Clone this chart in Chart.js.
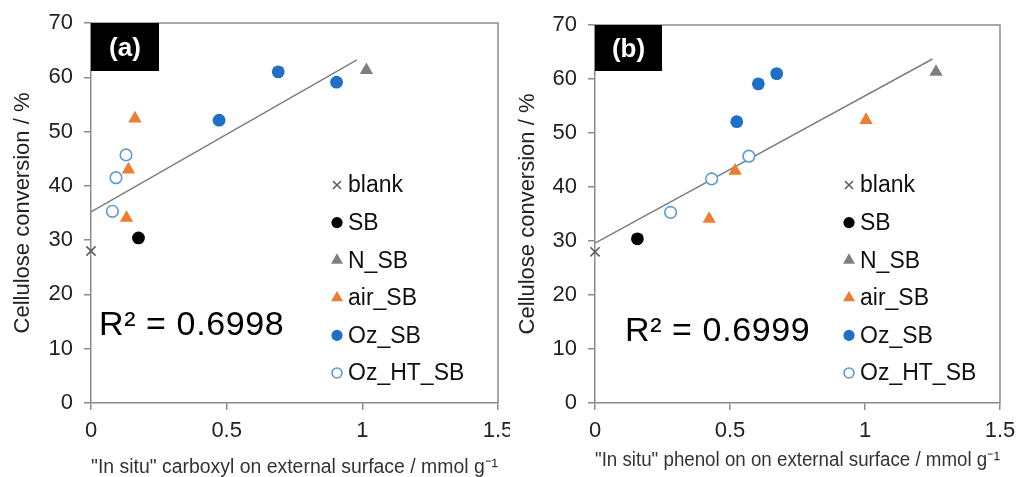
<!DOCTYPE html>
<html>
<head>
<meta charset="utf-8">
<script src="https://cdn.jsdelivr.net/npm/chart.js@4.4.1/dist/chart.umd.min.js"></script>
<style>
body { margin: 0; background: #fff; }
#wrap { position: relative; width: 1020px; height: 477px; overflow: hidden; }
.panel { position: absolute; top: 0; width: 510px; height: 477px; }
</style>
</head>
<body>
<div id="wrap">
  <div class="panel" style="left:0"><canvas id="chartA" width="510" height="477"></canvas></div>
  <div class="panel" style="left:510px"><canvas id="chartB" width="510" height="477"></canvas></div>
</div>
<script>
const seriesNames = ['blank', 'SB', 'N_SB', 'air_SB', 'Oz_SB', 'Oz_HT_SB'];

// cellulose conversion / % (same samples in both panels)
const convBlank = [28.0];
const convSB = [30.4];
const convN = [61.3];
const convAir = [52.4, 43.0, 34.1];
const convOz = [52.1, 61.0, 59.1];
const convOzHT = [35.3, 41.5, 45.7];

// (a) "in situ" carboxyl on external surface / mmol g-1
const carbBlank = [0];
const carbSB = [0.175];
const carbN = [1.015];
const carbAir = [0.162, 0.138, 0.131];
const carbOz = [0.472, 0.690, 0.905];
const carbOzHT = [0.079, 0.092, 0.129];

// (b) "in situ" phenol on external surface / mmol g-1
const phenBlank = [0];
const phenSB = [0.157];
const phenN = [1.263];
const phenAir = [1.004, 0.519, 0.423];
const phenOz = [0.525, 0.673, 0.605];
const phenOzHT = [0.280, 0.432, 0.570];

// linear trend lines (end points)
const trendAx = [0, 0.98];
const trendAy = [35.2, 63.2];
const trendBx = [0, 1.25];
const trendBy = [29.6, 63.7];

const xTicks = [0, 0.5, 1, 1.5];
const yTicks = [0, 10, 20, 30, 40, 50, 60, 70];

Chart.defaults.font.family = '"Liberation Sans", Arial, sans-serif';
Chart.defaults.color = '#222';

const AXIS = '#8c8c8c';

function pts(xs, ys) {
  return xs.map((x, i) => ({ x: x, y: ys[i] }));
}

const looks = [
  { pointStyle: 'crossRot', backgroundColor: '#595959', borderColor: '#595959', radius: 6.5, borderWidth: 1.5 },
  { pointStyle: 'circle', backgroundColor: '#000000', borderColor: '#000000', radius: 6.4, borderWidth: 0 },
  { pointStyle: 'triangle', backgroundColor: '#7f7f7f', borderColor: '#7f7f7f', radius: 7.7, borderWidth: 0 },
  { pointStyle: 'triangle', backgroundColor: '#ed7d31', borderColor: '#ed7d31', radius: 7.7, borderWidth: 0 },
  { pointStyle: 'circle', backgroundColor: '#1f6fc6', borderColor: '#1f6fc6', radius: 6.4, borderWidth: 0 },
  { pointStyle: 'circle', backgroundColor: '#ffffff', borderColor: '#5b9bd5', radius: 5.8, borderWidth: 1.6 }
];

function buildDatasets(xsList, trendX, trendY) {
  const ysList = [convBlank, convSB, convN, convAir, convOz, convOzHT];
  const sets = seriesNames.map((name, i) => ({
    label: name,
    data: pts(xsList[i], ysList[i]),
    pointStyle: looks[i].pointStyle,
    backgroundColor: looks[i].backgroundColor,
    borderColor: looks[i].borderColor,
    pointRadius: looks[i].radius,
    pointHoverRadius: looks[i].radius,
    pointBorderWidth: looks[i].borderWidth,
    borderWidth: looks[i].borderWidth,
    legendRadius: looks[i].radius - 0.8,
    clip: false
  }));
  sets.push({
    label: 'trend',
    data: pts(trendX, trendY),
    showLine: true,
    borderColor: '#7f7f7f',
    borderWidth: 1.5,
    pointRadius: 0,
    hideInLegend: true,
    clip: false
  });
  return sets;
}

const frame = {
  id: 'frame',
  beforeDatasetsDraw(chart) {
    const a = chart.chartArea, ctx = chart.ctx;
    ctx.save();
    ctx.strokeStyle = AXIS;
    ctx.lineWidth = 1.5;
    ctx.beginPath();
    ctx.moveTo(a.left, a.top);
    ctx.lineTo(a.right, a.top);
    ctx.lineTo(a.right, a.bottom);
    ctx.stroke();
    ctx.restore();
  }
};

const notes = {
  id: 'notes',
  afterDraw(chart, args, o) {
    const a = chart.chartArea, ctx = chart.ctx;
    ctx.save();
    // panel tag
    ctx.fillStyle = '#000';
    ctx.fillRect(a.left, a.top, o.tagW, o.tagH);
    ctx.fillStyle = '#fff';
    ctx.font = 'bold 26px "Liberation Sans", Arial, sans-serif';
    ctx.textAlign = 'center';
    ctx.textBaseline = 'middle';
    ctx.fillText(o.tag, a.left + o.tagW / 2, a.top + o.tagH / 2 + 2);
    // R squared
    ctx.fillStyle = '#000';
    ctx.textAlign = 'left';
    ctx.font = '34px "Liberation Sans", Arial, sans-serif';
    ctx.letterSpacing = '0.6px';
    ctx.fillText(o.r2, a.left + o.r2x, o.r2y);
    ctx.letterSpacing = '0px';
    // legend inside the plot
    ctx.font = '23px "Liberation Sans", Arial, sans-serif';
    let y = a.top + o.legTop;
    const mx = a.left + o.legLeft;
    chart.data.datasets.forEach(ds => {
      if (ds.hideInLegend) return;
      ctx.save();
      ctx.fillStyle = ds.backgroundColor;
      ctx.strokeStyle = ds.borderColor;
      ctx.lineWidth = ds.borderWidth;
      Chart.helpers.drawPoint(ctx, { pointStyle: ds.pointStyle, radius: ds.legendRadius, borderWidth: ds.borderWidth, rotation: 0 }, mx, y);
      ctx.restore();
      ctx.fillStyle = '#111';
      ctx.fillText(ds.label, mx + 11, y + 1);
      y += o.legStep;
    });
    ctx.restore();
  }
};

function makeChart(id, xsList, trendX, trendY, xTitle, geo, note) {
  return new Chart(id, {
    type: 'scatter',
    data: { datasets: buildDatasets(xsList, trendX, trendY) },
    options: {
      responsive: false,
      animation: false,
      layout: { padding: { left: 0, right: geo.right, top: geo.top, bottom: 0 } },
      plugins: {
        legend: { display: false },
        tooltip: { enabled: false },
        notes: note
      },
      scales: {
        x: {
          type: 'linear',
          min: 0, max: 1.5,
          afterBuildTicks: s => { s.ticks = xTicks.map(v => ({ value: v })); },
          afterFit: s => { s.height = geo.xh; s.paddingLeft = 0; s.paddingRight = 0; },
          grid: { drawOnChartArea: false, drawTicks: true, tickLength: 7, color: AXIS, lineWidth: 1.5 },
          border: { color: AXIS, width: 1.5 },
          ticks: { padding: 8, color: '#222', font: { size: 22 }, callback: v => String(v) },
          title: { display: true, text: xTitle, color: '#333', font: { size: 20 }, padding: { top: 0, bottom: geo.xtb } }
        },
        y: {
          min: 0, max: 70,
          afterBuildTicks: s => { s.ticks = yTicks.map(v => ({ value: v })); },
          afterFit: s => { s.width = geo.yw; s.paddingTop = 0; s.paddingBottom = 0; },
          grid: { drawOnChartArea: false, drawTicks: true, tickLength: 7, color: AXIS, lineWidth: 1.5 },
          border: { color: AXIS, width: 1.5 },
          ticks: { padding: 11, color: '#222', font: { size: 22 }, callback: v => String(v) },
          title: { display: true, text: 'Cellulose conversion / %', color: '#222', font: { size: 22 }, padding: { top: geo.ytp, bottom: 0 } }
        }
      }
    },
    plugins: [frame, notes]
  });
}

makeChart('chartA',
  [carbBlank, carbSB, carbN, carbAir, carbOz, carbOzHT], trendAx, trendAy,
  '"In situ" carboxyl on external surface / mmol g\u207B\u00B9',
  { right: 12, top: 23, xh: 74, yw: 91, ytp: 10, xtb: -2 },
  { tag: '(a)', tagW: 68, tagH: 48, r2: 'R\u00B2 = 0.6998', r2x: 8, r2y: 326, legLeft: 246, legTop: 162, legStep: 37.6 });

makeChart('chartB',
  [phenBlank, phenSB, phenN, phenAir, phenOz, phenOzHT], trendBx, trendBy,
  '"In situ" phenol on on external surface / mmol g\u207B\u00B9',
  { right: 20, top: 25, xh: 74, yw: 85, ytp: 5, xtb: 5 },
  { tag: '(b)', tagW: 67, tagH: 46, r2: 'R\u00B2 = 0.6999', r2x: 30, r2y: 332, legLeft: 254, legTop: 160, legStep: 37.6 });
</script>
</body>
</html>
